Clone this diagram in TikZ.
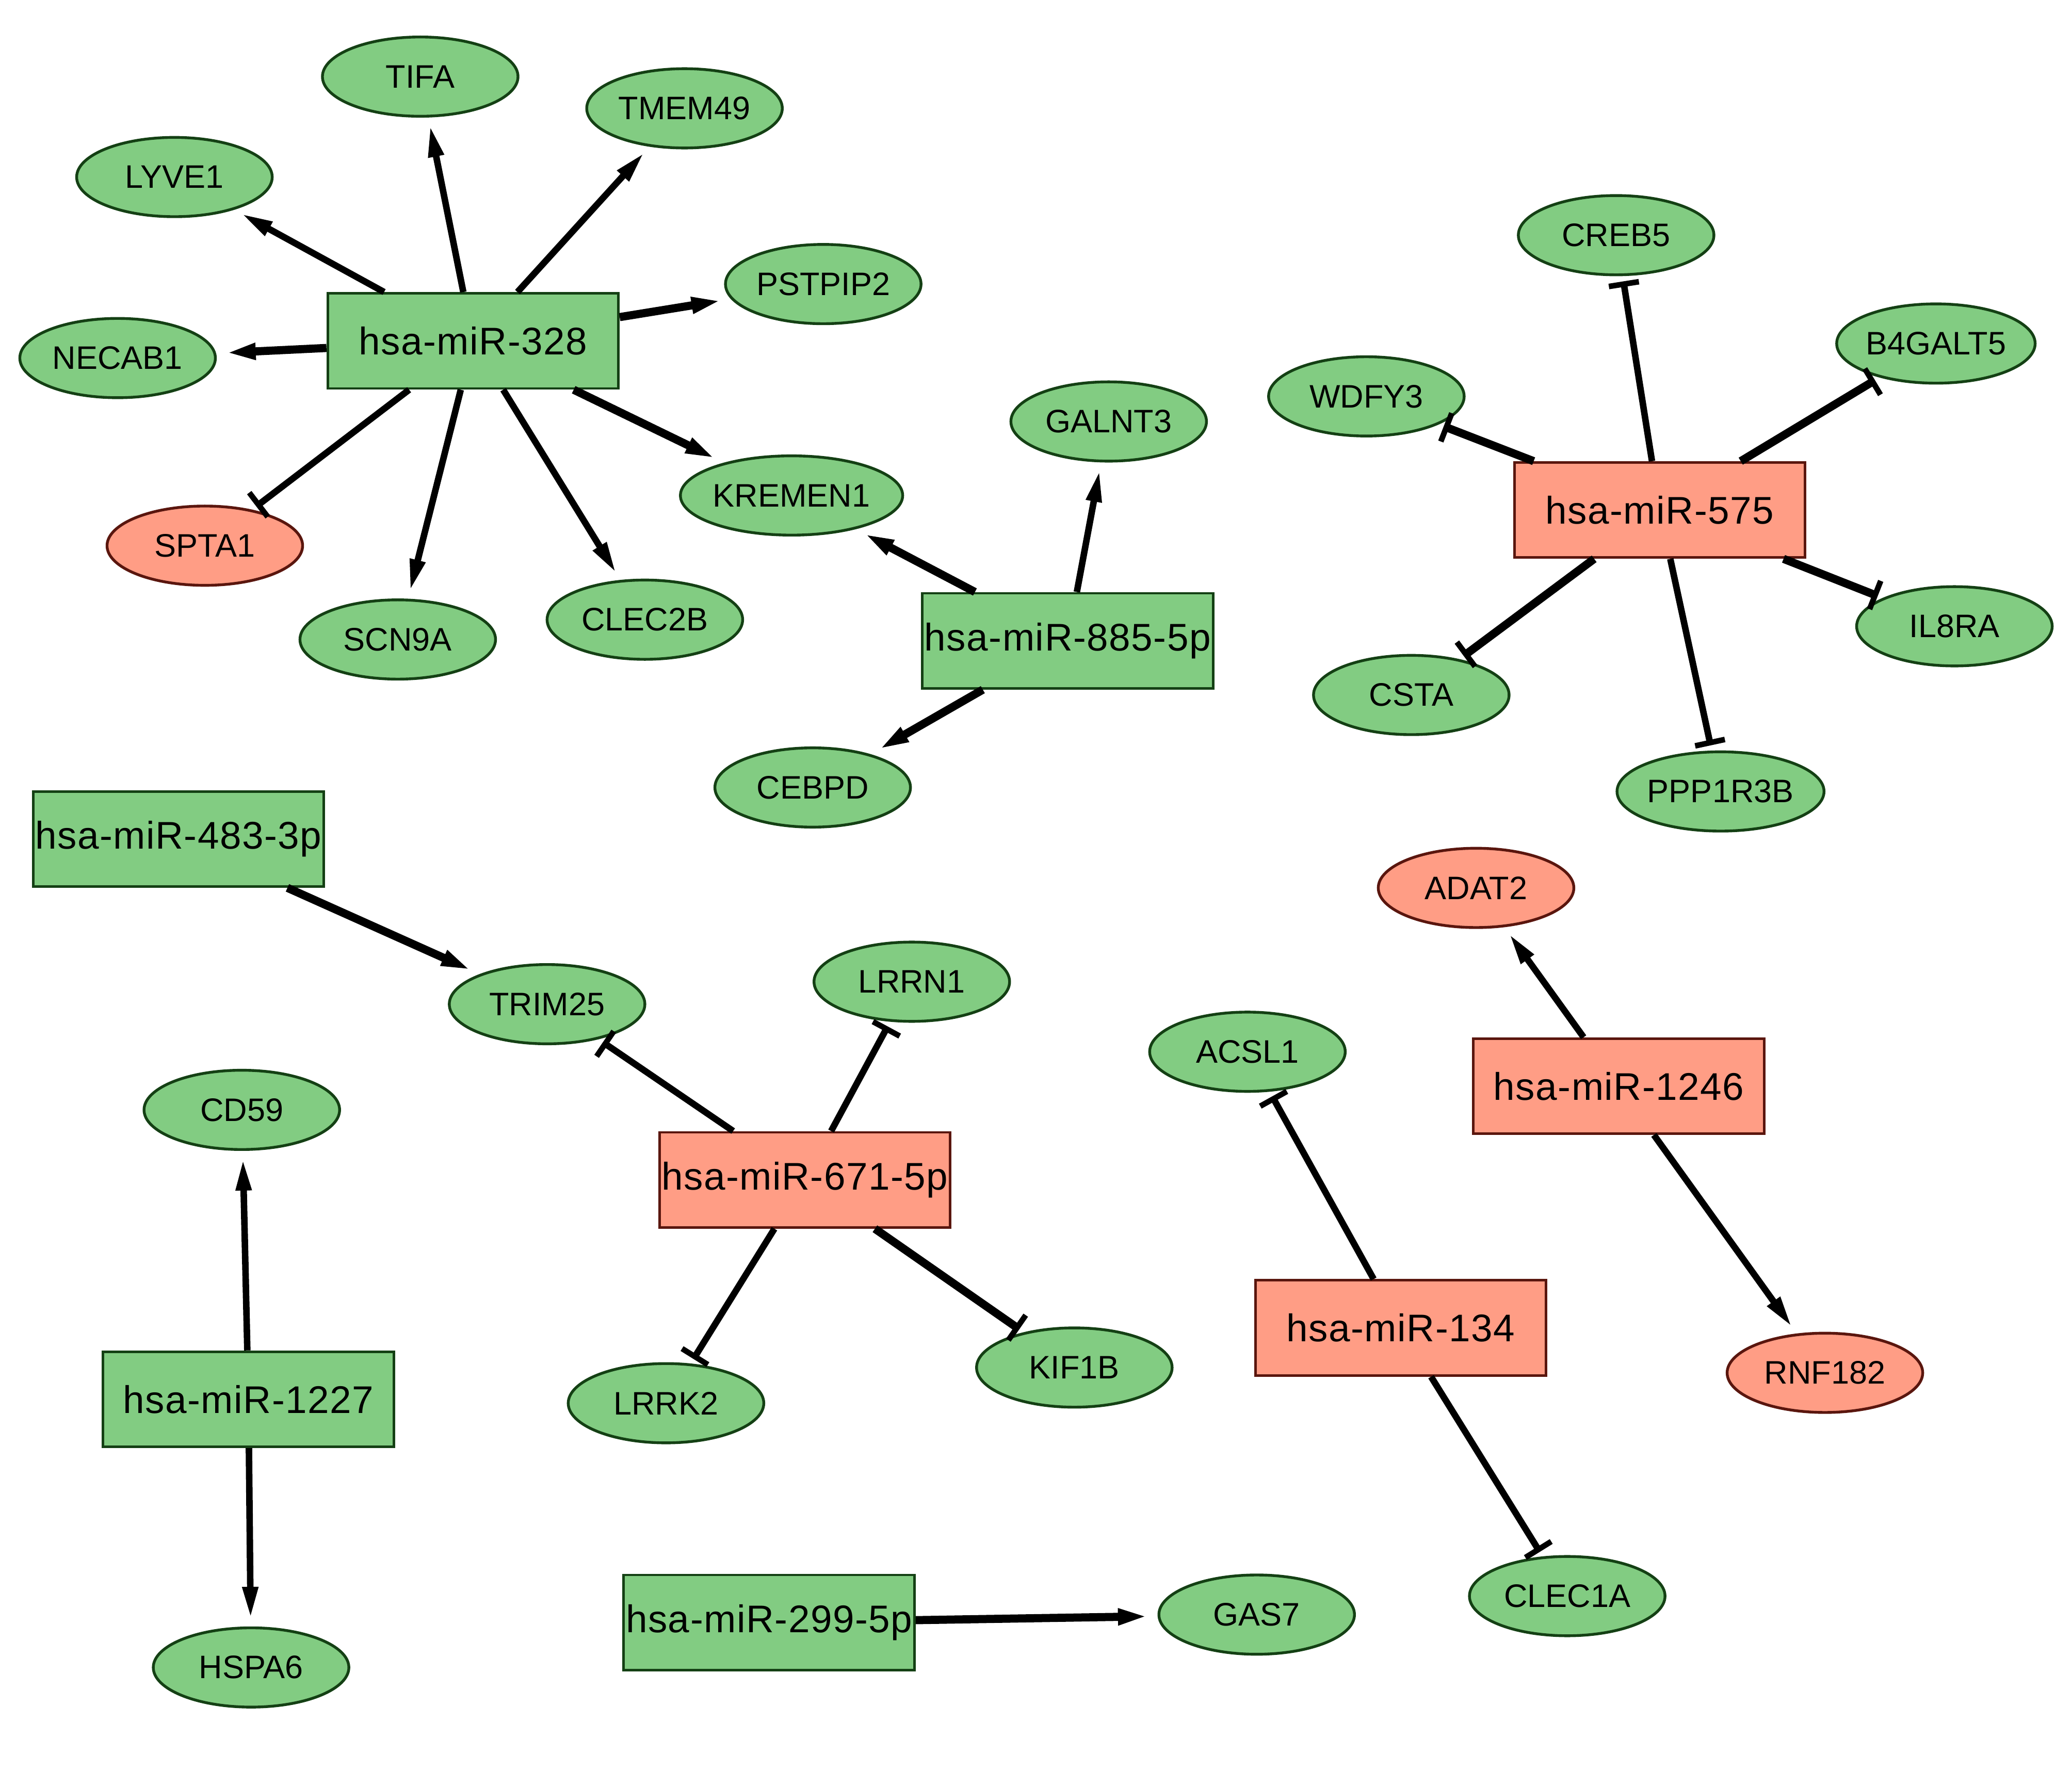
\documentclass[tikz,border=0pt]{standalone}
\usepackage{fontspec}
\setmainfont{Liberation Sans}
\newfontfamily\mirfont[LetterSpace=2]{Liberation Sans}
\usepackage{xcolor}
\usepackage{tikz}
\usetikzlibrary{arrows.meta,shapes.geometric}

\definecolor{upfill}{RGB}{130,204,130}
\definecolor{upline}{RGB}{20,64,20}
\definecolor{downfill}{RGB}{255,157,133}
\definecolor{downline}{RGB}{90,22,14}

\begin{document}
\begin{tikzpicture}[
  mir/.style={rectangle, draw, line width=0.55pt, minimum width=2.2cm, minimum height=0.72cm,
    inner sep=0pt, font=\mirfont\fontsize{8.3}{10}\selectfont},
  mirup/.style={mir, fill=upfill, draw=upline},
  mirdown/.style={mir, fill=downfill, draw=downline},
  gene/.style={ellipse, draw, line width=0.6pt, minimum width=1.48cm, minimum height=0.6cm,
    inner sep=0pt, font=\fontsize{7}{8}\selectfont},
  geneup/.style={gene, fill=upfill, draw=upline},
  genedown/.style={gene, fill=downfill, draw=downline},
  act/.style={-{Triangle[length=2.4mm, width=1.1mm]}, line width=1.4pt, shorten >=0.6mm},
  inh/.style={-{Bar[width=2.3mm, line width=1.2pt]}, line width=1.4pt, shorten >=0.4mm},
  boldedge/.style={line width=1.75pt},
]
\useasboundingbox (0,0) rectangle (15.68,-13.40);

% hsa-miR-328 and its targets
\node[mirup] (m328) at (3.58,-2.58) {hsa-miR-328};
\node[geneup] (tifa) at (3.18,-0.58) {TIFA};
\node[geneup] (tmem49) at (5.18,-0.82) {TMEM49};
\node[geneup] (lyve1) at (1.32,-1.34) {LYVE1};
\node[geneup] (pstpip2) at (6.23,-2.15) {PSTPIP2};
\node[geneup] (necab1) at (0.89,-2.71) {NECAB1};
\node[genedown] (spta1) at (1.55,-4.13) {SPTA1};
\node[geneup] (scn9a) at (3.01,-4.84) {SCN9A};
\node[geneup] (clec2b) at (4.88,-4.69) {CLEC2B};
\node[geneup] (kremen1) at (5.99,-3.75) {KREMEN1};

% hsa-miR-885-5p
\node[mirup] (m885) at (8.08,-4.85) {hsa-miR-885-5p};
\node[geneup] (galnt3) at (8.39,-3.19) {GALNT3};
\node[geneup] (cebpd) at (6.15,-5.96) {CEBPD};

% hsa-miR-575
\node[mirdown] (m575) at (12.56,-3.86) {hsa-miR-575};
\node[geneup] (creb5) at (12.23,-1.78) {CREB5};
\node[geneup] (b4galt5) at (14.65,-2.60) {B4GALT5};
\node[geneup] (wdfy3) at (10.34,-3.00) {WDFY3};
\node[geneup] (il8ra) at (14.79,-4.74) {IL8RA};
\node[geneup] (csta) at (10.68,-5.26) {CSTA};
\node[geneup] (ppp1r3b) at (13.02,-5.99) {PPP1R3B};

% hsa-miR-483-3p and hsa-miR-671-5p
\node[mirup] (m483) at (1.35,-6.35) {hsa-miR-483-3p};
\node[geneup] (trim25) at (4.14,-7.60) {TRIM25};
\node[mirdown] (m671) at (6.09,-8.93) {hsa-miR-671-5p};
\node[geneup] (lrrn1) at (6.90,-7.43) {LRRN1};
\node[geneup] (lrrk2) at (5.04,-10.62) {LRRK2};
\node[geneup] (kif1b) at (8.13,-10.35) {KIF1B};

% hsa-miR-1227, hsa-miR-299-5p
\node[mirup] (m1227) at (1.88,-10.59) {hsa-miR-1227};
\node[geneup] (cd59) at (1.83,-8.40) {CD59};
\node[geneup] (hspa6) at (1.90,-12.62) {HSPA6};
\node[mirup] (m299) at (5.82,-12.28) {hsa-miR-299-5p};
\node[geneup] (gas7) at (9.51,-12.22) {GAS7};

% hsa-miR-134, hsa-miR-1246
\node[mirdown] (m134) at (10.60,-10.05) {hsa-miR-134};
\node[geneup] (acsl1) at (9.44,-7.96) {ACSL1};
\node[geneup] (clec1a) at (11.86,-12.08) {CLEC1A};
\node[mirdown] (m1246) at (12.25,-8.22) {hsa-miR-1246};
\node[genedown] (adat2) at (11.17,-6.72) {ADAT2};
\node[genedown] (rnf182) at (13.81,-10.39) {RNF182};

% Activating edges
\draw[act] (m328) -- (tifa);
\draw[act] (m328) -- (tmem49);
\draw[act] (m328) -- (lyve1);
\draw[act, boldedge] (m328) -- (pstpip2);
\draw[act, boldedge] (m328) -- (necab1);
\draw[act] (m328) -- (scn9a);
\draw[act] (m328) -- (clec2b);
\draw[act, boldedge] (m328) -- (kremen1);
\draw[act, boldedge] (m885) -- (kremen1);
\draw[act] (m885) -- (galnt3);
\draw[act, boldedge] (m885) -- (cebpd);
\draw[act, boldedge] (m483) -- (trim25);
\draw[act] (m1227) -- (cd59);
\draw[act] (m1227) -- (hspa6);
\draw[act, boldedge] (m299) -- (gas7);
\draw[act] (m1246) -- (adat2);
\draw[act] (m1246) -- (rnf182);

% Inhibiting edges
\draw[inh] (m328) -- (spta1);
\draw[inh] (m575) -- (creb5);
\draw[inh, boldedge] (m575) -- (wdfy3);
\draw[inh, boldedge] (m575) -- (b4galt5);
\draw[inh, boldedge] (m575) -- (il8ra);
\draw[inh, boldedge] (m575) -- (csta);
\draw[inh] (m575) -- (ppp1r3b);
\draw[inh] (m671) -- (trim25);
\draw[inh] (m671) -- (lrrn1);
\draw[inh] (m671) -- (lrrk2);
\draw[inh, boldedge] (m671) -- (kif1b);
\draw[inh] (m134) -- (acsl1);
\draw[inh] (m134) -- (clec1a);

\end{tikzpicture}
\end{document}
